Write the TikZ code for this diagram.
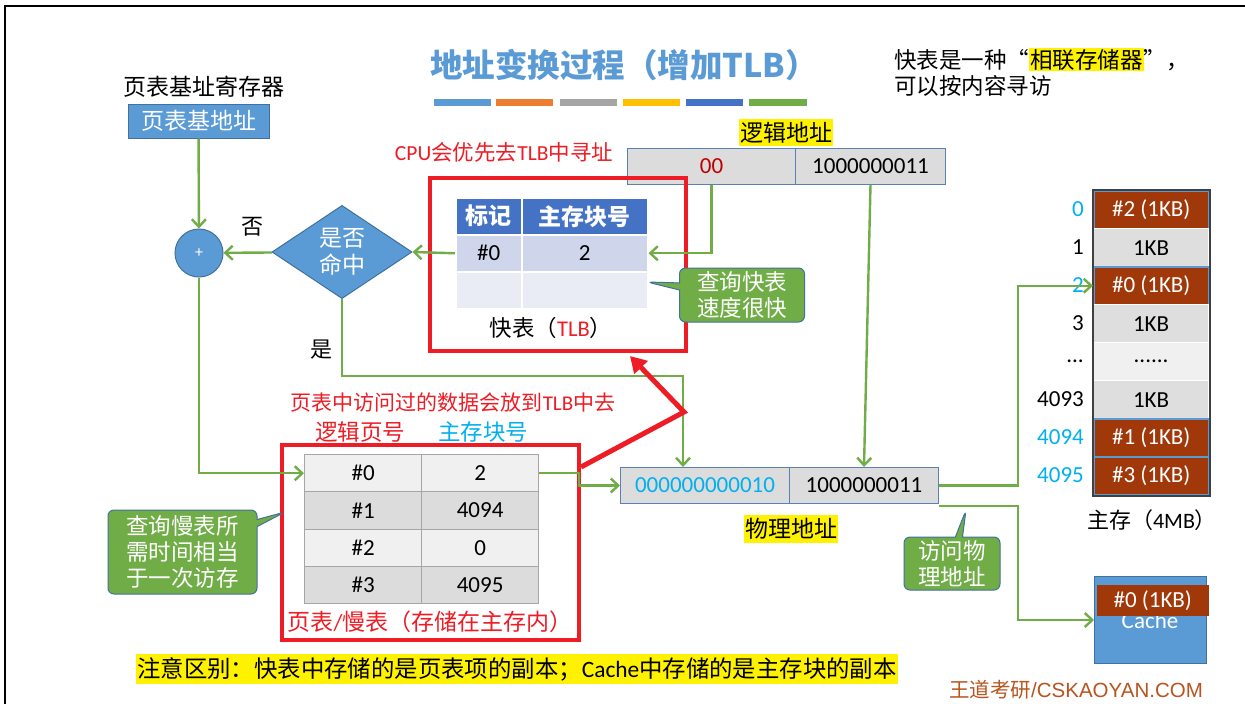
\documentclass[tikz,border=0pt]{standalone}
\usepackage{fontspec}
\setmainfont{Carlito}
\newfontfamily\zhfont{Noto Sans CJK SC}
\newfontfamily\wmfont{Liberation Sans}
\newcommand\zh[1]{{\zhfont #1}}
\newcommand\fsz[1]{\fontsize{#1}{#1}\selectfont}
\newcommand\hlt[1]{{\fboxsep=1pt\colorbox{yellow}{#1}}}
\usetikzlibrary{arrows.meta,shapes.geometric,shapes.callouts,calc}
\definecolor{bfill}{HTML}{5B9BD5}
\definecolor{bdraw}{HTML}{41719C}
\definecolor{greenc}{HTML}{70AD47}
\definecolor{rline}{HTML}{EE1C25}
\definecolor{cyanc}{HTML}{00B0F0}
\definecolor{darkred}{HTML}{C00000}
\definecolor{brownc}{HTML}{A0380A}
\definecolor{addrfill}{HTML}{DCDCDC}
\definecolor{addrdraw}{HTML}{5A80B4}
\definecolor{tlbhead}{HTML}{4472C4}
\definecolor{tlbrowa}{HTML}{CFD5EA}
\definecolor{tlbrowb}{HTML}{E9EBF5}
\definecolor{ptlight}{HTML}{F0F0F0}
\definecolor{ptdark}{HTML}{DCDCDC}
\definecolor{ptdraw}{HTML}{A6A6A6}
\definecolor{memgray}{HTML}{DEDEDE}
\definecolor{memlight}{HTML}{F0F0F0}
\definecolor{wmc}{HTML}{B8541E}
\definecolor{barA}{HTML}{5B9BD5}
\definecolor{barB}{HTML}{ED7D31}
\definecolor{barC}{HTML}{A5A5A5}
\definecolor{barD}{HTML}{FFC000}
\definecolor{barE}{HTML}{4472C4}
\definecolor{barF}{HTML}{70AD47}
\begin{document}
\begin{tikzpicture}[x=1pt,y=-1pt,
  garrow/.style={draw=greenc,line width=2.4pt,-{Straight Barb[length=7.5pt,width=14pt,line width=2.4pt]}},
  bluebox/.style={fill=bfill,draw=bdraw,line width=1pt,text=white},
  addrcell/.style={fill=addrfill,draw=addrdraw,line width=1pt,minimum height=36pt,inner sep=0pt,anchor=north west,font=\fsz{23}},
  tlbcell/.style={draw=white,line width=1.5pt,minimum height=37pt,inner sep=0pt,anchor=north west,font=\fsz{23}},
  ptcell/.style={draw=ptdraw,line width=1.2pt,minimum width=117pt,minimum height=37.25pt,inner sep=0pt,anchor=north west,font=\fsz{23}},
  memcell/.style={minimum width=115pt,minimum height=38pt,inner sep=0pt,anchor=north west,font=\fsz{23}},
  memhit/.style={memcell,fill=brownc,draw=bfill,line width=1.5pt,text=white},
  memplain/.style={memcell,fill=memgray,draw=white,line width=1.2pt},
  memlab/.style={anchor=east,font=\fsz{23},inner sep=0pt},
  redbox/.style={draw=rline,line width=4pt,inner sep=0pt,anchor=north west},
  callbox/.style={rectangle callout,fill=greenc,draw=bdraw,line width=1pt,rounded corners=6pt,text=white,align=center,inner sep=0pt,font=\zhfont\fontsize{22.5}{26}\selectfont},
  hlnode/.style={fill=yellow,inner xsep=1pt,inner ysep=3pt},
  plain/.style={inner sep=0pt}
]
\useasboundingbox (0,0) rectangle (1245,704);
\fill[white] (0,0) rectangle (1245,704);
% frame
\draw[line width=2pt] (5,704) -- (5,6) -- (1245,6);

% title and bars
\node[plain,text=bfill,font=\zhfont\bfseries\fsz{32.5}] (title) at (624,65) {地址变换过程（增加TLB）};
\fill[barA] (434,99) rectangle (491,106);
\fill[barB] (496,99) rectangle (553,106);
\fill[barC] (560,99) rectangle (617,106);
\fill[barD] (623,99) rectangle (680,106);
\fill[barE] (686,99) rectangle (743,106);
\fill[barF] (749,99) rectangle (807,106);

% top right remark
\node[plain,anchor=north west,align=left,font=\zhfont\fontsize{22.5}{26}\selectfont] (remark) at (894,48) {快表是一种“\hlt{相联存储器}”，\\可以按内容寻访};

% page table base register
\node[plain,font=\zhfont\fsz{23}] (pbreg) at (204,87) {页表基址寄存器};
\node[bluebox,minimum width=141pt,minimum height=34pt,inner sep=0pt,font=\zhfont\fsz{23}] (pbase) at (198.5,121) {页表基地址};
\node[bluebox,circle,minimum size=48pt,inner sep=0pt,font=\fsz{16}] (plus) at (199,253) {+};
\node[bluebox,diamond,minimum width=140pt,minimum height=93pt,inner sep=0pt,align=center,font=\zhfont\fontsize{23}{27}\selectfont] (hit) at (342,252) {是否\\命中};
\node[plain,font=\zhfont\fsz{22}] (nolab) at (252,227) {否};
\node[plain,font=\zhfont\fsz{22}] (yeslab) at (321,350) {是};

% logical address
\node[hlnode,font=\zhfont\fsz{23}] (lglab) at (786,132.5) {逻辑地址};
\node[addrcell,minimum width=168pt,text=darkred] (lg1) at (627,148) {00};
\node[addrcell,minimum width=150pt] (lg2) at (795,148) {1000000011};

% TLB
\node[plain,text=rline,font=\fsz{21.5}] (cpulab) at (504,152) {CPU\zh{会优先去}TLB\zh{中寻址}};
\node[redbox,minimum width=256pt,minimum height=173pt] (tlbbox) at (428,176) {};
\node[tlbcell,fill=tlbhead,text=white,minimum width=66pt,font=\zhfont\bfseries\fsz{23}] (th1) at (455,197) {标记};
\node[tlbcell,fill=tlbhead,text=white,minimum width=126pt,font=\zhfont\bfseries\fsz{23}] (th2) at (521,197) {主存块号};
\node[tlbcell,fill=tlbrowa,minimum width=66pt] (tlbr1a) at (455,234) {\#0};
\node[tlbcell,fill=tlbrowa,minimum width=126pt] (tlbr1b) at (521,234) {2};
\node[tlbcell,fill=tlbrowb,minimum width=66pt] (tlbr2a) at (455,271) {};
\node[tlbcell,fill=tlbrowb,minimum width=126pt] (tlbr2b) at (521,271) {};
\node[plain,font=\fsz{22.5}] (tlblab) at (551,328) {\zh{快表（}\textcolor{rline}{TLB}\zh{）}};
\node[callbox,minimum width=125pt,minimum height=54pt,callout absolute pointer={(647,282)}] (fastnote) at (742,295) {查询快表\\速度很快};

% page table
\node[plain,text=rline,font=\fsz{21}] (putlab) at (453,403) {\zh{页表中访问过的数据会放到}TLB\zh{中去}};
\node[plain,text=rline,font=\zhfont\fsz{22.5}] (lpnlab) at (360,432) {逻辑页号};
\node[plain,text=cyanc,font=\zhfont\fsz{22.5}] (blklab) at (483,432) {主存块号};
\node[redbox,minimum width=297pt,minimum height=195pt] (ptbox) at (280,443) {};
\node[ptcell,fill=ptlight] (pt0a) at (304,454) {\#0};
\node[ptcell,fill=ptlight] (pt0b) at (421,454) {2};
\node[ptcell,fill=ptdark] (pt1a) at (304,491.25) {\#1};
\node[ptcell,fill=ptdark] (pt1b) at (421,491.25) {4094};
\node[ptcell,fill=ptlight] (pt2a) at (304,528.5) {\#2};
\node[ptcell,fill=ptlight] (pt2b) at (421,528.5) {0};
\node[ptcell,fill=ptdark] (pt3a) at (304,565.75) {\#3};
\node[ptcell,fill=ptdark] (pt3b) at (421,565.75) {4095};
\node[plain,text=rline,font=\fsz{23}] (ptlab) at (430,622) {\zh{页表}/\zh{慢表（存储在主存内）}};
\node[callbox,minimum width=149pt,minimum height=84pt,callout absolute pointer={(285,512)}] (slownote) at (182.5,552) {查询慢表所\\需时间相当\\于一次访存};

% physical address
\node[addrcell,minimum width=169pt,text=cyanc] (phys1) at (620,467) {000000000010};
\node[addrcell,minimum width=149pt] (phys2) at (789,467) {1000000011};
\node[hlnode,font=\zhfont\fsz{23}] (phlab) at (791,529) {物理地址};
\node[callbox,minimum width=96pt,minimum height=53pt,callout absolute pointer={(966,510)}] (accnote) at (952,563.5) {访问物\\理地址};

% main memory
\node[memlab,text=cyanc] (ml0) at (1084,209) {0};
\node[memlab] (ml1) at (1084,247) {1};
\node[memlab,text=cyanc] (ml2) at (1084,285) {2};
\node[memlab] (ml3) at (1084,323) {3};
\node[memlab] (ml4) at (1084,361) {...};
\node[memlab] (ml5) at (1084,399) {4093};
\node[memlab,text=cyanc] (ml6) at (1084,437) {4094};
\node[memlab,text=cyanc] (ml7) at (1084,475) {4095};
\node[memhit] (mem0) at (1093,190) {\#2 (1KB)};
\node[memplain] (mem1) at (1093,228) {1KB};
\node[memhit] (mem2) at (1093,266) {\#0 (1KB)};
\node[memplain] (mem3) at (1093,304) {1KB};
\node[memplain,fill=memlight] (mem4) at (1093,342) {......};
\node[memplain] (mem5) at (1093,380) {1KB};
\node[memhit] (mem6) at (1093,418) {\#1 (1KB)};
\node[memhit] (mem7) at (1093,456) {\#3 (1KB)};
\draw[black!75,line width=2pt] (mem0.north west) rectangle (mem7.south east);
\node[plain,font=\fsz{22}] (memlab) at (1152,520) {\zh{主存（}4MB\zh{）}};

% cache
\node[bluebox,minimum width=112pt,minimum height=87pt,inner sep=0pt,anchor=north west] (cache) at (1094,576) {};
\node[plain,text=white,font=\fsz{23}] (cachetxt) at (1150,621) {Cache};
\node[memhit,minimum width=112pt,minimum height=31pt,draw=none] (cblk) at (1096,584) {\#0 (1KB)};

% connectors
\draw[garrow] (pbase) -- (plus);
\draw[garrow] (hit) -- (plus);
\draw[garrow] (tlbr1a.west) -- (hit.east);
\draw[garrow] (lg1.south) |- (tlbr1b.east);
\draw[garrow] (lg2.south) -- (phys2.north);
\draw[garrow] (hit.south) -- ++(0,77) -| ([xshift=-22pt]phys1.north);
\draw[garrow] (plus.south) |- (pt0a.west);
\draw[garrow] (pt0b.east) -- ++(40,0) |- (phys1.west);
\draw[garrow] (phys2.east) -- ++(79,0) |- (mem2.west);
\draw[garrow] ([yshift=-2pt]phys2.south east) -- ++(79,0) |- (cache.west);
\coordinate (rbend) at (684,412);
\draw[draw=rline,line width=5pt,-{Triangle[length=16pt,width=18pt]}] ([yshift=-24pt]ptbox.north east) -- (rbend) -- ([xshift=72pt,yshift=-3pt]tlbbox.south);

% bottom note and watermark
\node[hlnode,font=\fsz{23.4}] (note) at (517,669) {\zh{注意区别：快表中存储的是页表项的副本；}Cache\zh{中存储的是主存块的副本}};
\node[plain,text=wmc,font=\wmfont\fsz{20.5}] (wm) at (1076,690) {\zh{王道考研}/CSKAOYAN.COM};
\end{tikzpicture}
\end{document}
